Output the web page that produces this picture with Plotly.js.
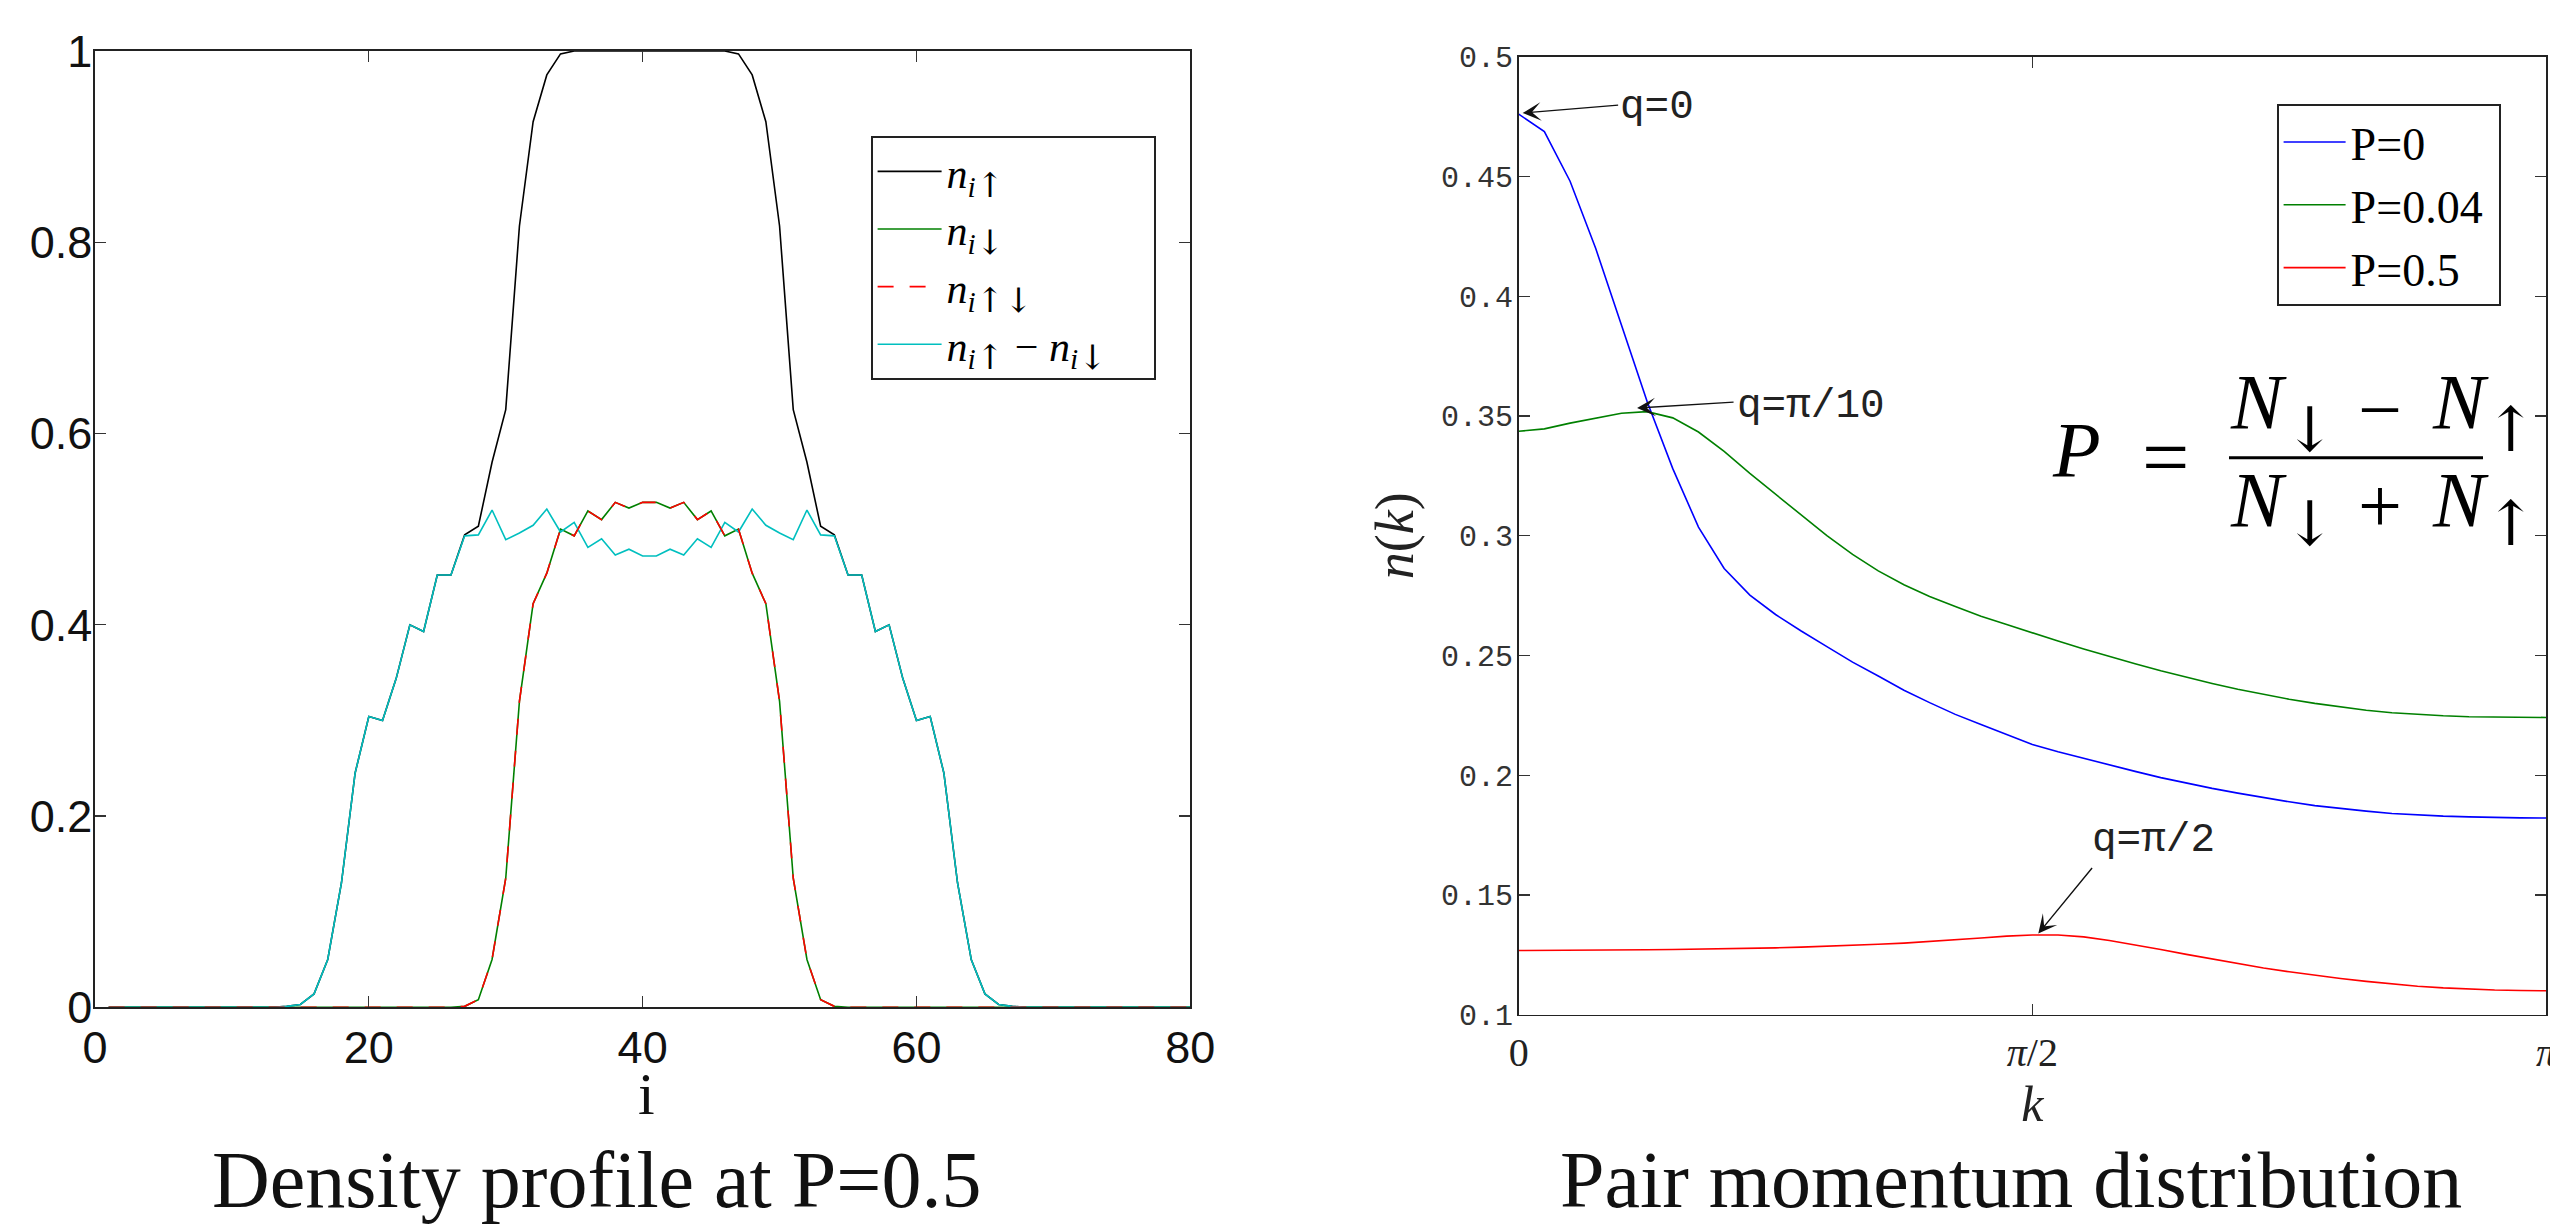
<!DOCTYPE html>
<html>
<head>
<meta charset="utf-8">
<script src="https://cdn.plot.ly/plotly-3.0.1.min.js"></script>
<style>html,body{margin:0;padding:0;background:#fff;}</style>
</head>
<body>
<div id="chart" style="width:2550px;height:1224px;"></div>
<script>
// ---------- Left panel: density profile at P=0.5 ----------
const site = [1,2,3,4,5,6,7,8,9,10,11,12,13,14,15,16,17,18,19,20,
  21,22,23,24,25,26,27,28,29,30,31,32,33,34,35,36,37,38,39,40,
  41,42,43,44,45,46,47,48,49,50,51,52,53,54,55,56,57,58,59,60,
  61,62,63,64,65,66,67,68,69,70,71,72,73,74,75,76,77,78,79,80];

const nUp = [0,0,0,0,0,0,0,0,0,0,0,0,0,0.001,0.003,0.014,0.05,0.13,0.245,0.304,
  0.300,0.344,0.400,0.393,0.452,0.452,0.494,0.503,0.570,0.625,0.817,0.926,0.975,0.997,1.0,1.0,1.0,1.0,1.0,1.0,
  1.0,1.0,1.0,1.0,1.0,1.0,0.997,0.975,0.926,0.817,0.625,0.570,0.503,0.494,0.452,0.452,0.393,0.400,0.344,0.300,
  0.304,0.245,0.13,0.05,0.014,0.003,0.001,0,0,0,0,0,0,0,0,0,0,0,0,0];

const nDown = [0,0,0,0,0,0,0,0,0,0,0,0,0,0,0,0,0,0,0,0,
  0,0,0,0,0,0,0.001,0.008,0.05,0.135,0.32,0.422,0.454,0.500,0.493,0.519,0.510,0.528,0.522,0.528,
  0.528,0.522,0.528,0.510,0.519,0.493,0.500,0.454,0.422,0.32,0.135,0.05,0.008,0.001,0,0,0,0,0,0,
  0,0,0,0,0,0,0,0,0,0,0,0,0,0,0,0,0,0,0,0];

const nUpDown = [0,0,0,0,0,0,0,0,0,0,0,0,0,0,0,0,0,0,0,0,
  0,0,0,0,0,0,0.001,0.008,0.05,0.135,0.32,0.422,0.454,0.500,0.493,0.519,0.510,0.528,0.522,0.528,
  0.528,0.522,0.528,0.510,0.519,0.493,0.500,0.454,0.422,0.32,0.135,0.05,0.008,0.001,0,0,0,0,0,0,
  0,0,0,0,0,0,0,0,0,0,0,0,0,0,0,0,0,0,0,0];

const nDiff = [0,0,0,0,0,0,0,0,0,0,0,0,0,0.001,0.003,0.014,0.05,0.13,0.245,0.304,
  0.300,0.344,0.400,0.393,0.452,0.452,0.493,0.494,0.520,0.489,0.496,0.504,0.521,0.497,0.507,0.481,0.490,0.473,0.479,0.472,
  0.472,0.479,0.473,0.490,0.481,0.507,0.497,0.521,0.504,0.496,0.489,0.520,0.494,0.493,0.452,0.452,0.393,0.400,0.344,0.300,
  0.304,0.245,0.13,0.05,0.014,0.003,0.001,0,0,0,0,0,0,0,0,0,0,0,0,0];

const leftXTicks = [0,20,40,60,80];
const leftYTicks = [0,0.2,0.4,0.6,0.8,1];

// ---------- Right panel: pair momentum distribution ----------
const kVals = [0,0.0785,0.1571,0.2356,0.3142,0.3927,0.4712,0.5498,0.6283,0.7069,
  0.7854,0.8639,0.9425,1.0210,1.0996,1.1781,1.2566,1.3352,1.4137,1.4923,
  1.5708,1.6493,1.7279,1.8064,1.8850,1.9635,2.0420,2.1206,2.1991,2.2777,
  2.3562,2.4347,2.5133,2.5918,2.6704,2.7489,2.8274,2.9060,2.9845,3.0631,3.1416];

const nkP0 = [0.4760,0.4687,0.4480,0.4199,0.3880,0.3560,0.3280,0.3036,0.2863,0.2752,
  0.2671,0.2602,0.2537,0.2472,0.2414,0.2355,0.2303,0.2254,0.2212,0.2170,
  0.2128,0.2098,0.2070,0.2042,0.2016,0.1990,0.1967,0.1945,0.1925,0.1906,
  0.1889,0.1873,0.1860,0.1850,0.1840,0.1834,0.1829,0.1826,0.1823,0.1822,0.1821];

const nkP004 = [0.3436,0.3446,0.3470,0.3492,0.3511,0.3518,0.3492,0.3433,0.3352,0.3260,
  0.3173,0.3085,0.3000,0.2922,0.2853,0.2795,0.2746,0.2704,0.2664,0.2629,
  0.2593,0.2560,0.2527,0.2495,0.2465,0.2436,0.2409,0.2383,0.2359,0.2337,
  0.2317,0.2300,0.2284,0.2271,0.2261,0.2253,0.2248,0.2244,0.2243,0.2242,0.2241];

const nkP05 = [0.1268,0.1268,0.1269,0.1269,0.1270,0.1271,0.1272,0.1273,0.1275,0.1277,
  0.1279,0.1282,0.1285,0.1289,0.1294,0.1299,0.1305,0.1313,0.1320,0.1328,
  0.1333,0.1333,0.1325,0.1310,0.1292,0.1272,0.1252,0.1232,0.1213,0.1195,
  0.1179,0.1164,0.1151,0.1139,0.1128,0.1119,0.1112,0.1107,0.1103,0.1101,0.1100];

const rightXTickVals = [0, 1.5708, 3.1416];
const rightXTickText = ['0', '<i>π</i>/2', '<i>π</i>'];

// pixel -> paper helpers (layout placement only)
const W = 2550, H = 1224;
const px = x => x / W;
const py = y => 1 - y / H;

const arrowStyle = 'font-family:DejaVu Serif;font-size:34px';
const arrowUp = '<span style="' + arrowStyle + '">↑</span>';
const arrowDn = '<span style="' + arrowStyle + '">↓</span>';

const lw = 1.6;
const traces = [
  {x: site, y: nUp, type: 'scatter', mode: 'lines', name: '<i>n</i><sub><i>i</i>' + arrowUp + '</sub>',
   line: {color: '#000000', width: lw}, legendrank: 1, xaxis: 'x', yaxis: 'y', legend: 'legend'},
  {x: site, y: nDown, type: 'scatter', mode: 'lines', name: '<i>n</i><sub><i>i</i>' + arrowDn + '</sub>',
   line: {color: 'rgb(0,128,0)', width: lw}, legendrank: 2, xaxis: 'x', yaxis: 'y', legend: 'legend'},
  {x: site, y: nDiff, type: 'scatter', mode: 'lines',
   name: '<i>n</i><sub><i>i</i>' + arrowUp + '</sub> − <i>n</i><sub><i>i</i>' + arrowDn + '</sub>&nbsp;&nbsp;&nbsp;&nbsp;',
   line: {color: 'rgb(0,191,191)', width: lw}, legendrank: 4, xaxis: 'x', yaxis: 'y', legend: 'legend'},
  {x: site, y: nUpDown, type: 'scatter', mode: 'lines', name: '<i>n</i><sub><i>i</i>' + arrowUp + arrowDn + '</sub>',
   line: {color: 'rgb(255,0,0)', width: lw, dash: '16px,16px'}, legendrank: 3, xaxis: 'x', yaxis: 'y', legend: 'legend'},
  {x: kVals, y: nkP0, type: 'scatter', mode: 'lines', name: 'P=0',
   line: {color: 'rgb(0,0,255)', width: lw}, xaxis: 'x2', yaxis: 'y2', legend: 'legend2'},
  {x: kVals, y: nkP004, type: 'scatter', mode: 'lines', name: 'P=0.04&nbsp;',
   line: {color: 'rgb(0,128,0)', width: lw}, xaxis: 'x2', yaxis: 'y2', legend: 'legend2'},
  {x: kVals, y: nkP05, type: 'scatter', mode: 'lines', name: 'P=0.5',
   line: {color: 'rgb(255,0,0)', width: lw}, xaxis: 'x2', yaxis: 'y2', legend: 'legend2'}
];

const axisCommon = {
  showline: true, linecolor: '#222', linewidth: 1.6, mirror: 'ticks',
  ticks: 'inside', ticklen: 11, tickwidth: 1.3, tickcolor: '#333',
  showgrid: false, zeroline: false, fixedrange: true
};

const serif = 'Liberation Serif, Times New Roman, serif';
const mono = 'Liberation Mono, DejaVu Sans Mono, monospace';
const sans = 'Liberation Sans, Arial, sans-serif';
const arrowFont = 'DejaVu Serif, serif';

const layout = {
  width: W, height: H,
  margin: {l: 0, r: 0, t: 0, b: 0},
  paper_bgcolor: '#ffffff', plot_bgcolor: '#ffffff',
  showlegend: true,
  xaxis: Object.assign({}, axisCommon, {
    domain: [px(95), px(1190.3)], range: [0, 80], anchor: 'y',
    tickvals: leftXTicks, tickfont: {family: sans, size: 45, color: '#111'},
    ticklabelstandoff: 0
  }),
  yaxis: Object.assign({}, axisCommon, {
    domain: [py(1007.3), py(51)], range: [0, 1], anchor: 'x',
    tickvals: leftYTicks, tickfont: {family: sans, size: 45, color: '#111'},
    ticklabelstandoff: -8
  }),
  xaxis2: Object.assign({}, axisCommon, {
    domain: [px(1518.7), px(2546)], range: [0, 3.1416], anchor: 'y2',
    tickvals: rightXTickVals, ticktext: rightXTickText, ticklabeloverflow: 'allow',
    tickfont: {family: serif, size: 40, color: '#222'},
    ticklabelstandoff: 2,
    title: {text: '<i>k</i>', font: {family: serif, size: 50, color: '#222'}, standoff: 12}
  }),
  yaxis2: Object.assign({}, axisCommon, {
    domain: [py(1014.7), py(56.7)], range: [0.1, 0.5], anchor: 'x2',
    dtick: 0.05, tick0: 0.1, tickfont: {family: mono, size: 30, color: '#333'},
    ticklabelstandoff: -2,
    title: {text: '<i>n</i>(<i>k</i>)', font: {family: serif, size: 54, color: '#222'}, standoff: 10}
  }),
  legend: {
    x: px(871), y: py(136), xanchor: 'left', yanchor: 'top',
    bordercolor: '#222', borderwidth: 1.6, bgcolor: '#ffffff',
    font: {family: serif, size: 42, color: '#000'},
    itemwidth: 64, tracegroupgap: 0, traceorder: 'normal'
  },
  legend2: {
    x: px(2277), y: py(104), xanchor: 'left', yanchor: 'top',
    bordercolor: '#222', borderwidth: 1.6, bgcolor: '#ffffff',
    font: {family: serif, size: 46, color: '#000'},
    itemwidth: 62, tracegroupgap: 0, traceorder: 'normal'
  },
  shapes: [
    {type: 'line', xref: 'paper', yref: 'paper', x0: px(2229), x1: px(2483), y0: py(457.7), y1: py(457.7),
     line: {color: '#000', width: 3}}
  ],
  annotations: [
    {text: 'Density profile at P=0.5', xref: 'paper', yref: 'paper', x: px(596), y: py(1180),
     xanchor: 'center', yanchor: 'middle', showarrow: false, font: {family: serif, size: 80, color: '#111'}},
    {text: 'Pair momentum distribution', xref: 'paper', yref: 'paper', x: px(2011), y: py(1180),
     xanchor: 'center', yanchor: 'middle', showarrow: false, font: {family: serif, size: 80, color: '#111'}},
    {text: 'i', xref: 'paper', yref: 'paper', x: px(646), y: py(1094),
     xanchor: 'center', yanchor: 'middle', showarrow: false, font: {family: serif, size: 60, color: '#111'}},
    // formula P = (N↓ − N↑)/(N↓ + N↑)
    {text: '<i>P</i>', xref: 'paper', yref: 'paper', x: px(2050), y: py(449), xanchor: 'left', yanchor: 'middle',
     showarrow: false, font: {family: serif, size: 78, color: '#000'}},
    {text: '=', xref: 'paper', yref: 'paper', x: px(2165), y: py(457), xanchor: 'center', yanchor: 'middle',
     showarrow: false, font: {family: serif, size: 84, color: '#000'}},
    {text: '<i>N</i>', xref: 'paper', yref: 'paper', x: px(2228), y: py(402), xanchor: 'left', yanchor: 'middle',
     showarrow: false, font: {family: serif, size: 78, color: '#000'}},
    {text: '↓', xref: 'paper', yref: 'paper', x: px(2310), y: py(430), xanchor: 'center', yanchor: 'middle',
     showarrow: false, font: {family: arrowFont, size: 62, color: '#000'}},
    {text: '−', xref: 'paper', yref: 'paper', x: px(2380), y: py(410), xanchor: 'center', yanchor: 'middle',
     showarrow: false, font: {family: serif, size: 78, color: '#000'}},
    {text: '<i>N</i>', xref: 'paper', yref: 'paper', x: px(2430), y: py(402), xanchor: 'left', yanchor: 'middle',
     showarrow: false, font: {family: serif, size: 78, color: '#000'}},
    {text: '↑', xref: 'paper', yref: 'paper', x: px(2511), y: py(430), xanchor: 'center', yanchor: 'middle',
     showarrow: false, font: {family: arrowFont, size: 62, color: '#000'}},
    {text: '<i>N</i>', xref: 'paper', yref: 'paper', x: px(2228), y: py(499), xanchor: 'left', yanchor: 'middle',
     showarrow: false, font: {family: serif, size: 78, color: '#000'}},
    {text: '↓', xref: 'paper', yref: 'paper', x: px(2310), y: py(523), xanchor: 'center', yanchor: 'middle',
     showarrow: false, font: {family: arrowFont, size: 62, color: '#000'}},
    {text: '+', xref: 'paper', yref: 'paper', x: px(2380), y: py(505), xanchor: 'center', yanchor: 'middle',
     showarrow: false, font: {family: serif, size: 78, color: '#000'}},
    {text: '<i>N</i>', xref: 'paper', yref: 'paper', x: px(2430), y: py(499), xanchor: 'left', yanchor: 'middle',
     showarrow: false, font: {family: serif, size: 78, color: '#000'}},
    {text: '↑', xref: 'paper', yref: 'paper', x: px(2511), y: py(523), xanchor: 'center', yanchor: 'middle',
     showarrow: false, font: {family: arrowFont, size: 62, color: '#000'}},
    // q labels
    {text: 'q=0', xref: 'paper', yref: 'paper', x: px(1618), y: py(107), xanchor: 'left', yanchor: 'middle',
     showarrow: false, font: {family: mono, size: 41, color: '#222'}},
    {text: 'q=π/10', xref: 'paper', yref: 'paper', x: px(1735), y: py(406), xanchor: 'left', yanchor: 'middle',
     showarrow: false, font: {family: mono, size: 41, color: '#222'}},
    {text: 'q=π/2', xref: 'paper', yref: 'paper', x: px(2090), y: py(840), xanchor: 'left', yanchor: 'middle',
     showarrow: false, font: {family: mono, size: 41, color: '#222'}},
    // arrows
    {text: '', xref: 'x2', yref: 'y2', x: 0.012, y: 0.4765, ax: 97, ay: -8, showarrow: true,
     arrowhead: 3, arrowsize: 2.2, arrowwidth: 1.4, arrowcolor: '#111', standoff: 0, startstandoff: 0},
    {text: '', xref: 'x2', yref: 'y2', x: 0.362, y: 0.3533, ax: 98, ay: -6, showarrow: true,
     arrowhead: 3, arrowsize: 2.2, arrowwidth: 1.4, arrowcolor: '#111', standoff: 0, startstandoff: 0},
    {text: '', xref: 'x2', yref: 'y2', x: 1.589, y: 0.1339, ax: 55, ay: -67, showarrow: true,
     arrowhead: 3, arrowsize: 2.2, arrowwidth: 1.4, arrowcolor: '#111', standoff: 0, startstandoff: 0}
  ]
};

Plotly.newPlot('chart', traces, layout, {displayModeBar: false, staticPlot: true});
</script>
</body>
</html>
